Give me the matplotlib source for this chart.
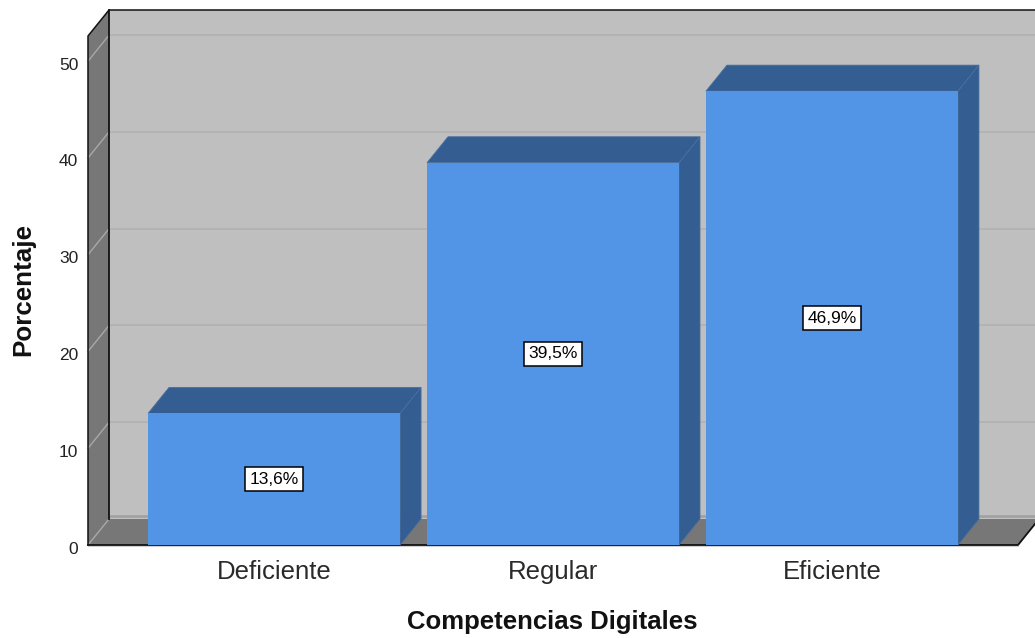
import matplotlib
matplotlib.use("Agg")
import matplotlib.pyplot as plt
from matplotlib.patches import Polygon
from matplotlib.transforms import ScaledTranslation

categories = ["Deficiente", "Regular", "Eficiente"]
values = [13.6, 39.5, 46.9]
labels = ["13,6%", "39,5%", "46,9%"]
yticks = [0, 10, 20, 30, 40, 50]

W, H = 1035, 638
plt.rcParams['font.family'] = ['Liberation Sans', 'DejaVu Sans']
fig = plt.figure(figsize=(W/100, H/100), dpi=100)
L, R, T, B = 88, 1018, 36, 545
ytop = 52.6
ax = fig.add_axes([L/W, 1-B/H, (R-L)/W, (B-T)/H])
ax.set_xlim(-0.667, 2.667)
ax.set_ylim(0, ytop)
ax.patch.set_visible(False)
for s in ax.spines.values():
    s.set_visible(False)

ppx = (R-L)/(2.667+0.667)
ppy = (B-T)/ytop
dx, dy = 21/ppx, 26/ppy
x0, x1, y1 = -0.667, 2.667, ytop
width = 252/ppx
kw = dict(clip_on=False)

# walls
ax.add_patch(Polygon([(x0+dx, dy), (x1+dx, dy), (x1+dx, y1+dy), (x0+dx, y1+dy)], fc='#bfbfbf', ec='none', zorder=1, **kw))
ax.add_patch(Polygon([(x0, 0), (x0+dx, dy), (x0+dx, y1+dy), (x0, y1)], fc='#777777', ec='none', zorder=1, **kw))
ax.add_patch(Polygon([(x0, 0), (x1, 0), (x1+dx, dy), (x0+dx, dy)], fc='#777777', ec='none', zorder=1, **kw))
ax.plot([x0+dx, x1+dx], [dy+0.3, dy+0.3], color='#a0a0a0', lw=1.8, zorder=1.2, **kw)

# grid
for t in yticks:
    if t > 0:
        ax.plot([x0+dx, x1+dx], [t+dy, t+dy], color='#b3b3b3', lw=1.4, zorder=1.5, **kw)
    ax.plot([x0, x0+dx], [t, t+dy], color='#a8a8a8', lw=1.0, zorder=1.5, **kw)

# frame
black = '#111111'
ax.plot([x0, x0, x0+dx, x1+dx], [0, y1, y1+dy, y1+dy], color=black, lw=1.1, zorder=2, **kw)
ax.plot([x0+dx, x0+dx], [dy, y1+dy], color=black, lw=1.3, zorder=2, **kw)
ax.plot([x0, x1, x1+dx], [0, 0, dy], color=black, lw=1.3, zorder=2, **kw)
ax.plot([x0, x1], [-0.14, -0.14], color='#cfcfcf', lw=0.8, zorder=1.9, **kw)

# bars
front = '#5294e6'
dark = '#345d92'
for i, (v, lab) in enumerate(zip(values, labels)):
    a, b = i-width/2, i+width/2
    ax.add_patch(Polygon([(a, v), (b, v), (b+dx, v+dy), (a+dx, v+dy)], fc=dark, ec='#4a6f9e', lw=0.6, zorder=3, **kw))
    ax.add_patch(Polygon([(b, 0), (b+dx, dy), (b+dx, v+dy), (b, v)], fc=dark, ec='#4a6f9e', lw=0.6, zorder=3, **kw))
    ax.bar(i, v, width=width, color=front, edgecolor='none', zorder=4, clip_on=False)
    ax.text(i, v/2, lab, ha='center', va='center', fontsize=12.5, color='black', zorder=5,
            bbox=dict(boxstyle='square,pad=0.26', fc='white', ec='black', lw=1.1))

ax.set_xticks(range(len(categories)))
ax.set_xticklabels(categories, fontsize=18.5, color='#2a2a2a')
ax.set_yticks(yticks)
ax.set_yticklabels([str(t) for t in yticks], fontsize=12.5, color='#222222')
ax.tick_params(axis='both', length=0)
ax.tick_params(axis='x', pad=11)
ax.tick_params(axis='y', pad=7)
shift = ScaledTranslation(0, -2.5/72*0.72, fig.dpi_scale_trans)
for lab in ax.get_yticklabels():
    lab.set_transform(lab.get_transform() + shift)

fig.text(552/W, 1-622/H, "Competencias Digitales", ha='center', va='center', fontsize=18.5, fontweight='bold', color='#111111')
fig.text(23/W, 1-290/H, "Porcentaje", ha='center', va='center', rotation=90, fontsize=18.7, fontweight='bold', color='#111111')

fig.savefig("out.png", dpi=100)
